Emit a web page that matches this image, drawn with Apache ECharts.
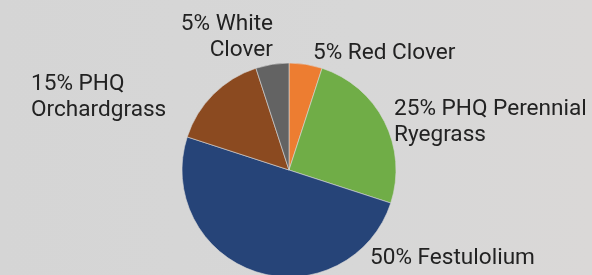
<!DOCTYPE html>
<html>
<head>
<meta charset="utf-8">
<script src="https://cdn.jsdelivr.net/npm/echarts@6/dist/echarts.min.js"></script>
<style>
html,body{margin:0;padding:0;background:#d6d6d6;}
#chart{width:592px;height:275px;}
</style>
</head>
<body>
<div id="chart"></div>
<script>
// Data (clockwise from 12 o'clock)
const categories = ['Red Clover', 'PHQ Perennial\nRyegrass', 'Festulolium', 'PHQ\nOrchardgrass', 'White\nClover'];
const values = [5, 25, 50, 15, 5];

// Styles / layout (not data)
const colors = ['#ED7D31', '#70AD47', '#264478', '#8B4A20', '#636363'];
const labelPlacement = [
  {x: 313, y: 40, align: 'left'},
  {x: 394, y: 96, align: 'left'},
  {x: 370, y: 245, align: 'left'},
  {x: 31, y: 71, align: 'left'},
  {x: 273, y: 11, align: 'right'}
];

const chart = echarts.init(document.getElementById('chart'), null, {renderer: 'canvas'});
chart.setOption({
  animation: false,
  backgroundColor: {
    type: 'linear', x: 0, y: 0, x2: 1, y2: 0,
    colorStops: [{offset: 0, color: '#d5d5d5'}, {offset: 0.6, color: '#d7d7d7'}, {offset: 1, color: '#dad8d7'}]
  },
  series: [{
    type: 'pie',
    center: [289, 170],
    radius: 107,
    startAngle: 90,
    clockwise: true,
    silent: true,
    avoidLabelOverlap: false,
    data: categories.map((c, i) => ({name: c, value: values[i], itemStyle: {color: colors[i]}})),
    itemStyle: {borderColor: '#d9d9d9', borderWidth: 0.6},
    label: {
      show: true,
      position: 'outside',
      formatter: '{c}% {b}',
      fontFamily: 'Roboto',
      fontSize: 22.6,
      lineHeight: 26,
      color: '#222222',
      align: 'left',
      overflow: 'none',
      width: 300
    },
    labelLine: {show: false},
    labelLayout: function (params) {
      const p = labelPlacement[params.dataIndex];
      return {x: p.x, y: p.y, align: p.align, verticalAlign: 'top', hideOverlap: false, moveOverlap: false};
    }
  }]
});
</script>
</body>
</html>
